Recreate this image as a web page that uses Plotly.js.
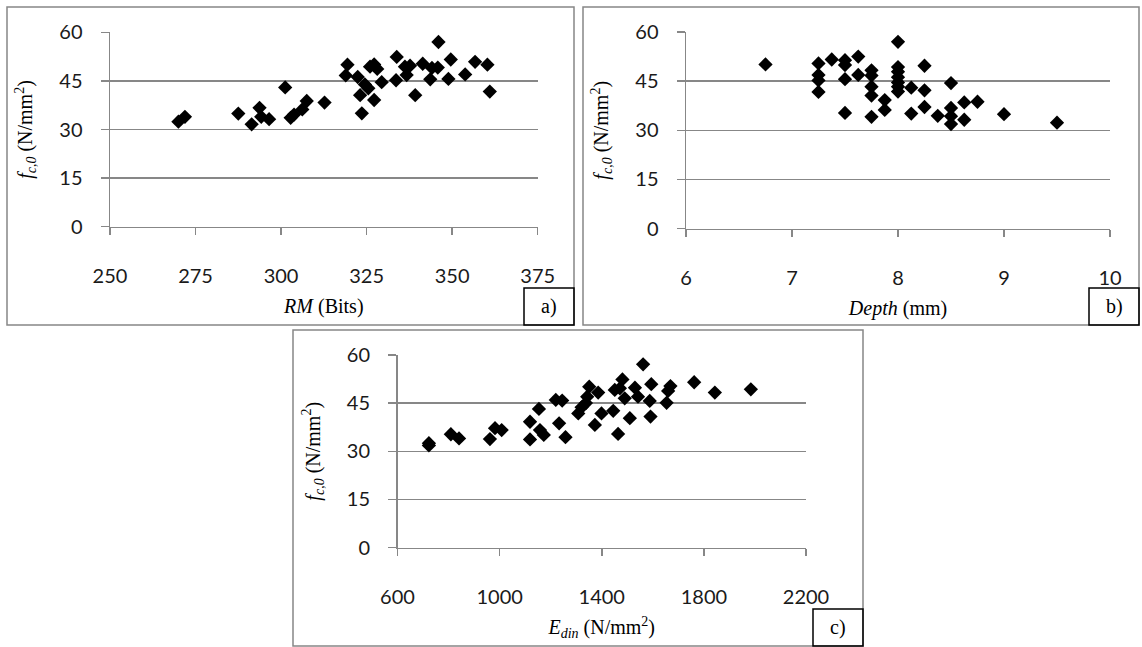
<!DOCTYPE html>
<html>
<head>
<meta charset="utf-8">
<script src="https://cdn.plot.ly/plotly-3.0.1.min.js"></script>
<style>html,body{margin:0;padding:0;background:#fff;}#chart{width:1142px;height:647px;}</style>
</head>
<body>
<div id="chart"></div>
<script>
// ---------- data ----------
const fTicks = [0, 15, 30, 45, 60];
const rmTicks = [250, 275, 300, 325, 350, 375];
const depthTicks = [6, 7, 8, 9, 10];
const edinTicks = [600, 1000, 1400, 1800, 2200];

// a) RM (Bits) vs fc,0
const rmValues = [270.0, 271.9, 287.5, 291.4, 293.7, 294.2, 296.5, 301.2, 302.8, 303.8, 306.2, 307.5, 312.7, 318.9, 319.4, 322.4, 323.1, 323.6, 324.5, 325.5, 326.0, 327.2, 328.1, 327.2, 329.4, 333.6, 333.8, 336.2, 336.7, 337.7, 339.2, 341.4, 343.6, 344.1, 345.8, 346.0, 348.9, 349.6, 353.8, 356.7, 360.3, 361.0];
const fcRM = [32.4, 33.9, 34.9, 31.6, 36.7, 33.9, 33.2, 43.0, 33.6, 34.6, 36.2, 38.8, 38.3, 46.7, 50.0, 46.2, 40.6, 35.0, 43.9, 42.7, 49.4, 50.1, 48.7, 39.1, 44.6, 45.2, 52.4, 49.4, 46.8, 49.7, 40.6, 50.3, 45.5, 49.0, 49.1, 57.0, 45.6, 51.6, 47.0, 50.9, 50.0, 41.7];

// b) Depth (mm) vs fc,0
const depthValues = [6.75, 7.25, 7.25, 7.25, 7.25, 7.375, 7.5, 7.5, 7.5, 7.5, 7.625, 7.625, 7.75, 7.75, 7.75, 7.75, 7.75, 7.875, 7.875, 8.0, 8.0, 8.0, 8.0, 8.0, 8.0, 8.0, 8.125, 8.125, 8.25, 8.25, 8.25, 8.375, 8.5, 8.5, 8.5, 8.5, 8.625, 8.625, 8.75, 9.0, 9.5];
const fcDepth = [50.1, 50.4, 46.9, 45.2, 41.7, 51.6, 51.4, 49.9, 45.6, 35.3, 52.5, 46.9, 48.3, 46.7, 43.3, 40.6, 34.1, 39.2, 36.2, 57.0, 49.3, 47.9, 46.2, 44.6, 43.3, 41.8, 43.0, 35.1, 49.7, 42.2, 37.1, 34.4, 44.4, 36.8, 34.3, 31.9, 38.5, 33.2, 38.7, 34.9, 32.3];

// c) Edin (N/mm2) vs fc,0
const edinValues = [723, 723, 809, 841, 962, 982, 1008, 1119, 1119, 1154, 1158, 1173, 1220, 1245, 1233, 1258, 1308, 1321, 1338, 1343, 1351, 1373, 1386, 1399, 1445, 1464, 1451, 1481, 1471, 1490, 1510, 1530, 1542, 1562, 1588, 1591, 1594, 1654, 1660, 1669, 1762, 1843, 1984];
const fcEdin = [32.5, 31.8, 35.3, 34.0, 33.8, 37.2, 36.6, 39.2, 33.7, 43.2, 36.6, 35.1, 46.0, 45.8, 38.7, 34.4, 41.8, 43.7, 45.0, 47.0, 50.1, 38.2, 48.3, 41.8, 42.6, 35.4, 49.1, 52.4, 49.6, 46.5, 40.3, 49.8, 47.0, 57.1, 45.7, 40.8, 50.9, 45.1, 48.8, 50.3, 51.5, 48.3, 49.3];

const panelLabels = ['a)', 'b)', 'c)'];
const yTitle = '<i>f</i><sub><i>c,0</i></sub> (N/mm<sup>2</sup>)';
const xTitles = ['<i>RM</i> (Bits)', '<i>Depth</i> (mm)', '<i>E</i><sub><i>din</i></sub> (N/mm<sup>2</sup>)'];

// ---------- layout helpers ----------
const W = 1142, H = 647;
const px = x => x / W;
const py = y => 1 - y / H;
const GRAY = '#878787';
const tickFont = {family: 'Lato, "Open Sans", sans-serif', size: 20, color: '#1a1a1a'};
const serifFont = {family: '"Liberation Serif", "DejaVu Serif", serif', size: 20, color: '#000'};

const marker = {symbol: 'diamond', size: 11, color: '#000', line: {width: 0}};
const traces = [
  {x: rmValues, y: fcRM, xaxis: 'x', yaxis: 'y', mode: 'markers', type: 'scatter', marker: marker, hoverinfo: 'skip'},
  {x: depthValues, y: fcDepth, xaxis: 'x2', yaxis: 'y2', mode: 'markers', type: 'scatter', marker: marker, hoverinfo: 'skip'},
  {x: edinValues, y: fcEdin, xaxis: 'x3', yaxis: 'y3', mode: 'markers', type: 'scatter', marker: marker, hoverinfo: 'skip'}
];

function xAxis(domain, range, ticks, title, anchor) {
  return {
    domain: domain, range: range, tickmode: 'array', tickvals: ticks, ticktext: ticks.map(String),
    anchor: anchor, showline: true, linecolor: GRAY, linewidth: 1.5, showgrid: false, zeroline: false,
    ticks: 'outside', ticklen: 7, tickwidth: 1.5, tickcolor: GRAY, tickfont: tickFont,
    ticklabelstandoff: 24,
    title: {text: title, font: serifFont, standoff: 13},
    fixedrange: true
  };
}
function yAxis(domain, anchor) {
  return {
    domain: domain, range: [0, 60], tickmode: 'array', tickvals: fTicks, ticktext: fTicks.map(String),
    anchor: anchor, showline: true, linecolor: GRAY, linewidth: 1.5, showgrid: true, gridcolor: GRAY, gridwidth: 1.5,
    zeroline: false, ticks: 'outside', ticklen: 8, tickwidth: 1.5, tickcolor: GRAY, tickfont: tickFont,
    ticklabelstandoff: 14,
    title: {text: yTitle, font: serifFont, standoff: 21},
    fixedrange: true
  };
}

// panel frames [x0, y0, x1, y1] in pixels
const frames = [[7, 7, 574, 325], [583, 7, 1139, 325], [293, 330, 863, 646]];
const shapes = [];
const annotations = [];
frames.forEach((f, i) => {
  shapes.push({type: 'rect', xref: 'paper', yref: 'paper', x0: px(f[0]), x1: px(f[2]), y0: py(f[3]), y1: py(f[1]),
    line: {color: GRAY, width: 1.5}, fillcolor: 'rgba(0,0,0,0)', layer: 'below'});
  const bw = 50, bh = 37;
  shapes.push({type: 'rect', xref: 'paper', yref: 'paper', x0: px(f[2] - bw), x1: px(f[2]), y0: py(f[3]), y1: py(f[3] - bh),
    line: {color: '#000', width: 1.5}, fillcolor: 'rgba(0,0,0,0)'});
  annotations.push({xref: 'paper', yref: 'paper', x: px(f[2] - bw / 2), y: py(f[3] - bh / 2), text: panelLabels[i],
    showarrow: false, font: serifFont, xanchor: 'center', yanchor: 'middle'});
});

const layout = {
  width: W, height: H, margin: {l: 0, r: 0, t: 0, b: 0}, showlegend: false,
  paper_bgcolor: '#fff', plot_bgcolor: 'rgba(0,0,0,0)',
  xaxis: xAxis([px(110), px(537.7)], [250, 375], rmTicks, xTitles[0], 'y'),
  yaxis: yAxis([py(226.7), py(32.3)], 'x'),
  xaxis2: xAxis([px(686), px(1110)], [6, 10], depthTicks, xTitles[1], 'y2'),
  yaxis2: yAxis([py(228.5), py(32)], 'x2'),
  xaxis3: xAxis([px(397.5), px(806)], [600, 2200], edinTicks, xTitles[2], 'y3'),
  yaxis3: yAxis([py(547.5), py(355)], 'x3'),
  shapes: shapes, annotations: annotations
};
['xaxis','yaxis','xaxis2','yaxis2','xaxis3','yaxis3'].forEach(k => layout[k].automargin = false);

Plotly.newPlot('chart', traces, layout, {displayModeBar: false, staticPlot: true});
</script>
</body>
</html>
